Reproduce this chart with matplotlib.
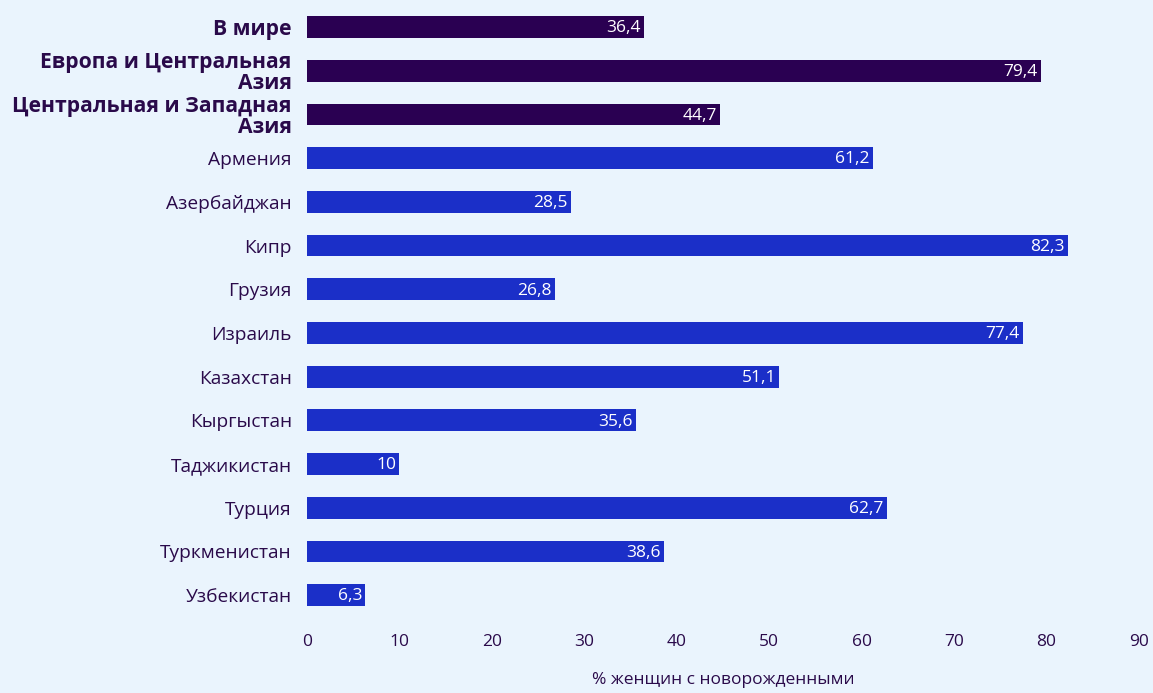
import matplotlib.pyplot as plt

# данные: доля женщин с новорожденными, %
regions = ['В мире', 'Европа и Центральная\nАзия', 'Центральная и Западная\nАзия']
region_values = [36.4, 79.4, 44.7]
countries = ['Армения', 'Азербайджан', 'Кипр', 'Грузия', 'Израиль', 'Казахстан',
             'Кыргыстан', 'Таджикистан', 'Турция', 'Туркменистан', 'Узбекистан']
country_values = [61.2, 28.5, 82.3, 26.8, 77.4, 51.1, 35.6, 10, 62.7, 38.6, 6.3]
xticks = [0, 10, 20, 30, 40, 50, 60, 70, 80, 90]

bg = '#eaf4fd'
dark = '#2a0052'
blue = '#1b2fc8'
txt = '#2a0a4a'

plt.rcParams['font.family'] = ['Open Sans', 'DejaVu Sans']

labels = regions + countries
values = region_values + country_values
colors = [dark] * len(regions) + [blue] * len(countries)

fig = plt.figure(figsize=(11.53, 6.93), dpi=100, facecolor=bg)
ax = fig.add_axes([0.2663, 0.1097, 0.7216, 0.8828], facecolor=bg)

ypos = list(range(len(labels)))
ax.barh(ypos, values, height=0.5, color=colors)
ax.set_ylim(len(labels) - 0.5, -0.5)
ax.set_xlim(0, 90)

ax.set_yticks(ypos)
ax.set_yticklabels(labels, fontsize=13.8, color=txt, linespacing=1.0)
for i, t in enumerate(ax.get_yticklabels()):
    if i < len(regions):
        t.set_fontweight('bold')
        t.set_fontsize(15.2)

ax.set_xticks(xticks)
ax.set_xticklabels([str(v) for v in xticks], fontsize=12.5, color=txt)
ax.tick_params(axis='both', length=0)
ax.tick_params(axis='y', pad=11)
ax.tick_params(axis='x', pad=12)
ax.set_xlabel('% женщин с новорожденными', fontsize=12.5, color=txt, labelpad=16)

for s in ax.spines.values():
    s.set_visible(False)

for y, v in zip(ypos, values):
    ax.text(v - 0.35, y + 0.03, f'{v:g}'.replace('.', ','), ha='right', va='center',
            color='white', fontsize=12.5)

fig.savefig('out.png', dpi=100, facecolor=bg)
